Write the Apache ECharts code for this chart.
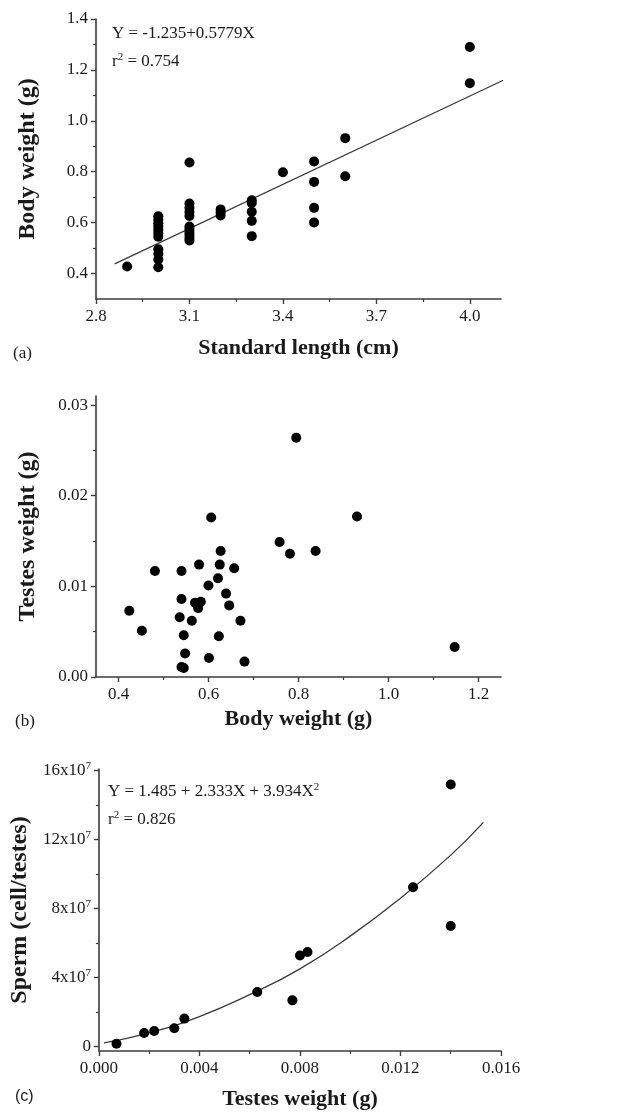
<!DOCTYPE html>
<html>
<head>
<meta charset="utf-8">
<script src="https://cdn.jsdelivr.net/npm/echarts@6/dist/echarts.min.js"></script>
<style>html,body{margin:0;padding:0;background:#fff}#c{width:617px;height:1117px}</style>
</head>
<body>
<div id="c"></div>
<script>
// ---------- Panel (a): standard length vs body weight ----------
const aStandardLength = [2.9,
  3.0,3.0,3.0,3.0,3.0,3.0,3.0,3.0,3.0,3.0,3.0,
  3.1,3.1,3.1,3.1,3.1,3.1,3.1,3.1,3.1,3.1,3.1,
  3.2,3.2,3.2,
  3.3,3.3,3.3,3.3,3.3,
  3.4,
  3.5,3.5,3.5,3.5,
  3.6,3.6,
  4.0,4.0];
const aBodyWeight = [0.428,
  0.625,0.612,0.598,0.585,0.572,0.558,0.545,0.495,0.478,0.455,0.425,
  0.836,0.675,0.658,0.642,0.626,0.585,0.575,0.563,0.552,0.540,0.530,
  0.652,0.640,0.628,
  0.688,0.677,0.643,0.607,0.547,
  0.798,
  0.840,0.760,0.658,0.601,
  0.932,0.782,
  1.290,1.148];
const aFitX = [2.86, 4.11];
const aFitY = [0.438, 1.161];
const aXMajor = [2.8, 3.1, 3.4, 3.7, 4.0];
const aXMinor = [2.95, 3.25, 3.55, 3.85];
const aYMajor = [0.4, 0.6, 0.8, 1.0, 1.2, 1.4];
const aYMinor = [0.5, 0.7, 0.9, 1.1, 1.3];

// ---------- Panel (b): body weight vs testes weight ----------
const bBodyWeight = [0.795,0.930,0.606,0.758,0.781,0.838,0.627,0.579,0.625,0.657,
  0.481,0.540,0.621,0.600,0.639,0.540,0.570,0.583,0.577,0.646,
  0.424,0.536,0.563,0.671,0.452,0.545,0.623,0.548,0.601,0.680,
  0.540,0.545,1.147];
const bTestesWeight = [0.0264,0.0177,0.0176,0.0149,0.0136,0.0139,0.0139,0.0124,0.0124,0.0120,
  0.0117,0.0117,0.0109,0.0101,0.0092,0.0086,0.0082,0.0083,0.0076,0.0079,
  0.0073,0.0066,0.0062,0.0062,0.0051,0.0046,0.0045,0.0026,0.0021,0.0017,
  0.0011,0.0010,0.0033];
const bXMajor = [0.4, 0.6, 0.8, 1.0, 1.2];
const bXMinor = [0.5, 0.7, 0.9, 1.1];
const bYMajor = [0, 0.01, 0.02, 0.03];
const bYMinor = [0.005, 0.015, 0.025];

// ---------- Panel (c): testes weight vs sperm ----------
const cTestesWeight = [0.0007,0.0018,0.0022,0.0030,0.0034,0.0063,0.0077,0.0080,0.0083,0.0125,0.0140,0.0140];
const cSperm = [1.5e6,7.7e6,8.9e6,1.05e7,1.61e7,3.15e7,2.67e7,5.27e7,5.48e7,9.24e7,6.99e7,1.52e8];
const cFitX = [0.0002,0.002,0.004,0.006,0.008,0.010,0.012,0.014,0.0153];
const cFitY = [2.0e6,7.8e6,1.73e7,3.0e7,4.5e7,6.4e7,8.6e7,1.11e8,1.30e8];
const cXMajor = [0, 0.004, 0.008, 0.012, 0.016];
const cXMinor = [0.002, 0.006, 0.010, 0.014];
const cYMajor = [0, 4e7, 8e7, 12e7, 16e7];
const cYMinor = [2e7, 6e7, 10e7, 14e7];

const FONT = 'Liberation Serif';
const AX = '#3c3c3c';
const TXT = '#1a1a1a';

function pairs(xs, ys){ return xs.map((x,i)=>[x, ys[i]]); }

function majorX(grid, min, max, ticks, fmt, name, gap){
  return {gridIndex:grid, type:'value', min, max, position:'bottom',
    name, nameLocation:'middle', nameGap:gap,
    nameTextStyle:{fontFamily:FONT, fontWeight:'bold', fontSize:22, color:TXT},
    axisLine:{show:true, onZero:false, lineStyle:{color:AX, width:1.6}},
    axisTick:{show:true, customValues:ticks, length:5, lineStyle:{color:AX, width:1.4}},
    axisLabel:{customValues:ticks, formatter:fmt, fontFamily:FONT, fontSize:17, color:TXT, margin:9},
    splitLine:{show:false}};
}
function minorX(grid, min, max, ticks){
  return {gridIndex:grid, type:'value', min, max, position:'bottom',
    axisLine:{show:false, onZero:false}, axisLabel:{show:false}, splitLine:{show:false},
    axisTick:{show:true, customValues:ticks, length:3, lineStyle:{color:AX, width:1.2}}};
}
function majorY(grid, min, max, ticks, fmt, name, gap, rich){
  const lab = {customValues:ticks, formatter:fmt, fontFamily:FONT, fontSize:17, color:TXT, margin:8};
  if (rich) lab.rich = rich;
  return {gridIndex:grid, type:'value', min, max, position:'left',
    name, nameLocation:'middle', nameGap:gap,
    nameTextStyle:{fontFamily:FONT, fontWeight:'bold', fontSize:24, color:TXT},
    axisLine:{show:true, onZero:false, lineStyle:{color:AX, width:1.6}},
    axisTick:{show:true, customValues:ticks, length:5, lineStyle:{color:AX, width:1.4}},
    axisLabel:lab, splitLine:{show:false}};
}
function minorY(grid, min, max, ticks){
  return {gridIndex:grid, type:'value', min, max, position:'left',
    axisLine:{show:false, onZero:false}, axisLabel:{show:false}, splitLine:{show:false},
    axisTick:{show:true, customValues:ticks, length:3, lineStyle:{color:AX, width:1.2}}};
}

const supRich = {
  m:{fontFamily:FONT, fontSize:17, color:TXT},
  s:{fontFamily:FONT, fontSize:11, color:TXT, padding:[0,0,9,0]}
};
const DOT = {color:'#000', opacity:1};

const chart = echarts.init(document.getElementById('c'), null, {renderer:'canvas'});
chart.setOption({
  backgroundColor:'#fff',
  animation:false,
  grid:[
    {left:96, right:116, top:19, height:280},
    {left:96, right:116, top:396, height:281},
    {left:97, right:116, top:769, height:282}
  ],
  xAxis:[
    majorX(0, 2.8, 4.1, aXMajor, v=>v.toFixed(1), 'Standard length (cm)', 38),
    minorX(0, 2.8, 4.1, aXMinor),
    majorX(1, 0.35, 1.25, bXMajor, v=>v.toFixed(1), 'Body weight (g)', 31),
    minorX(1, 0.35, 1.25, bXMinor),
    majorX(2, 0, 0.016, cXMajor, v=>v.toFixed(3), 'Testes weight (g)', 37),
    minorX(2, 0, 0.016, cXMinor)
  ],
  yAxis:[
    majorY(0, 0.3, 1.4, aYMajor, v=>v.toFixed(1), 'Body weight (g)', 56),
    minorY(0, 0.3, 1.4, aYMinor),
    majorY(1, 0, 0.031, bYMajor, v=>v.toFixed(2), 'Testes weight (g)', 56),
    minorY(1, 0, 0.031, bYMinor),
    majorY(2, -2.7e6, 1.61e8, cYMajor, v=> v===0 ? '{m|0}' : '{m|'+Math.round(v/1e7)+'x10}{s|7}', 'Sperm (cell/testes)', 56, supRich),
    minorY(2, -2.7e6, 1.61e8, cYMinor)
  ],
  series:[
    {type:'line', xAxisIndex:0, yAxisIndex:0, data:pairs(aFitX, aFitY), symbol:'none', clip:false,
      lineStyle:{color:'#3a3a3a', width:1.3}, z:2},
    {type:'scatter', xAxisIndex:0, yAxisIndex:0, data:pairs(aStandardLength, aBodyWeight),
      symbol:'circle', symbolSize:10, itemStyle:DOT, z:3},
    {type:'scatter', xAxisIndex:2, yAxisIndex:2, data:pairs(bBodyWeight, bTestesWeight),
      symbol:'circle', symbolSize:10, itemStyle:DOT, z:3},
    {type:'line', xAxisIndex:4, yAxisIndex:4, data:pairs(cFitX, cFitY), symbol:'none', smooth:true,
      lineStyle:{color:'#3a3a3a', width:1.3}, z:2},
    {type:'scatter', xAxisIndex:4, yAxisIndex:4, data:pairs(cTestesWeight, cSperm),
      symbol:'circle', symbolSize:10, itemStyle:DOT, z:3}
  ],
  graphic:[
    {type:'text', left:13, top:345, style:{text:'(a)', font:'17px "Liberation Serif"', fill:TXT}},
    {type:'text', left:15, top:713, style:{text:'(b)', font:'17px "Liberation Serif"', fill:TXT}},
    {type:'text', left:15, top:1089, style:{text:'(c)', font:'16px "Liberation Sans"', fill:TXT}},
    {type:'text', left:112, top:25, style:{text:'Y = -1.235+0.5779X', font:'17px "Liberation Serif"', fill:TXT}},
    {type:'text', left:112, top:52, style:{text:'{m|r}{s|2}{m| = 0.754}', rich:{
      m:{fontFamily:FONT, fontSize:17, fill:TXT}, s:{fontFamily:FONT, fontSize:11, fill:TXT, padding:[0,0,9,0]}}}},
    {type:'text', left:108, top:782, style:{text:'{m|Y = 1.485 + 2.333X + 3.934X}{s|2}', rich:{
      m:{fontFamily:FONT, fontSize:17, fill:TXT}, s:{fontFamily:FONT, fontSize:11, fill:TXT, padding:[0,0,9,0]}}}},
    {type:'text', left:108, top:810, style:{text:'{m|r}{s|2}{m| = 0.826}', rich:{
      m:{fontFamily:FONT, fontSize:17, fill:TXT}, s:{fontFamily:FONT, fontSize:11, fill:TXT, padding:[0,0,9,0]}}}}
  ]
});
</script>
</body>
</html>
